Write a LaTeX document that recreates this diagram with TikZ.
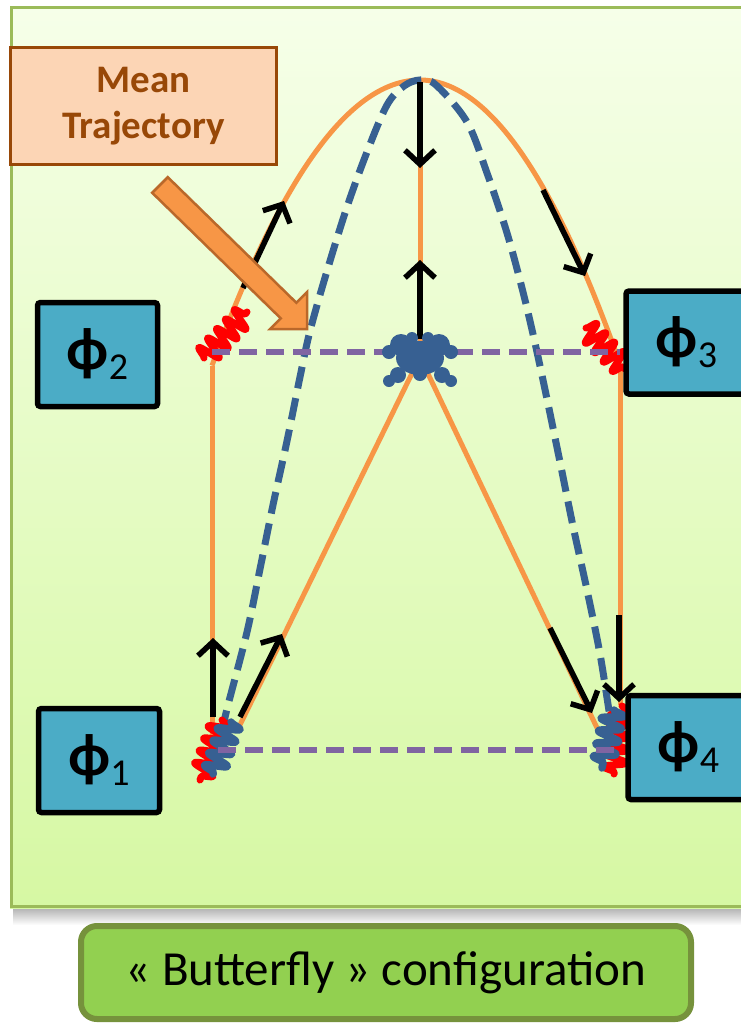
\documentclass[tikz,border=0pt]{standalone}
\usepackage{fontspec}
\setmainfont{Carlito}
\usetikzlibrary{arrows.meta,decorations.pathmorphing}

\definecolor{panelTop}{RGB}{246,255,233}
\definecolor{panelBot}{RGB}{214,248,163}
\definecolor{panelEdge}{RGB}{155,187,89}
\definecolor{noteFill}{RGB}{252,213,181}
\definecolor{noteEdge}{RGB}{152,72,7}
\definecolor{pathOrange}{RGB}{247,150,70}
\definecolor{arrowEdge}{RGB}{186,104,42}
\definecolor{waveBlue}{RGB}{55,96,146}
\definecolor{wavePurple}{RGB}{128,100,162}
\definecolor{waveRed}{RGB}{255,0,0}
\definecolor{phiFill}{RGB}{75,172,198}
\definecolor{capFill}{RGB}{146,208,80}
\definecolor{capEdge}{RGB}{118,146,60}

\newcommand\phiLabel[1]{{\fontsize{60}{60}\selectfont\bfseries ϕ}\raisebox{-10pt}{\fontsize{38}{38}\selectfont #1}}

\tikzset{
  armline/.style={draw=pathOrange, line width=5pt},
  meanline/.style={draw=waveBlue, line width=7pt, dash pattern=on 22pt off 10pt},
  levelline/.style={draw=wavePurple, line width=5.5pt, dash pattern=on 18pt off 9pt},
  kick/.style={draw=black, line width=5.5pt, -{Straight Barb[length=14pt,width=30pt]}},
  redpacket/.style={draw=waveRed, line width=7pt, line cap=round, line join=round,
    decorate, decoration={snake, segment length=13pt, amplitude=11pt}},
  bluepacket/.style={draw=waveBlue, line width=7.5pt, line cap=round, line join=round,
    decorate, decoration={snake, segment length=13pt, amplitude=11pt}},
  phibox/.style={draw=black, line width=5.5pt, fill=phiFill, rounded corners=3pt,
    inner sep=0pt},
  notebox/.style={draw=noteEdge, line width=3pt, fill=noteFill, inner sep=0pt,
    minimum width=266pt, minimum height=117pt, align=center, text=noteEdge,
    font=\fontsize{39}{46}\selectfont\bfseries},
  capbox/.style={draw=capEdge, line width=6pt, fill=capFill, rounded corners=16pt,
    minimum width=610pt, minimum height=93pt, inner sep=0pt,
    font=\fontsize{49}{49}\selectfont}
}

\begin{document}
\begin{tikzpicture}[x=1pt,y=-1pt]
\useasboundingbox (0,0) rectangle (740,1023);

% background panel with its shadow
\shade[top color=black!30, bottom color=white] (13,908) rectangle (745,925);
\shade[top color=panelTop, bottom color=panelBot] (10,6) rectangle (745,908);
\draw[panelEdge, line width=3.5pt] (11.5,7.5) rectangle (746,906.5);

% key points of the two arms
\coordinate (apex) at (420,80);
\coordinate (mid) at (420,357);
\coordinate (footL) at (212,738);
\coordinate (footR) at (620,705);
\coordinate (cornerL) at (212,365.5);
\coordinate (cornerR) at (620,364);
\coordinate (vL) at (237,731);
\coordinate (vR) at (598,730);

% interferometer arms
\draw[armline] plot[domain=212:420, samples=60, smooth] (\x,{80+((\x-420)*0.08124)^2})
  -- plot[domain=420:620, samples=60, smooth] (\x,{80+((\x-420)*0.08426)^2});
\draw[armline] (cornerL) -- (footL);
\draw[armline] (cornerR) -- (footR);
\draw[armline] (apex) -- (420,345);
\draw[armline] (mid) -- (vL);
\draw[armline] (mid) -- (vR);

% mean trajectory
\draw[meanline] plot[smooth, tension=0.55] coordinates {
  (222,732) (227,709) (247,632) (260,569) (273,505) (287,441) (300,377)
  (310,331) (327,271) (347,207) (367,152) (387,105) (404,86) (420,80)
  (436,85) (467,122) (487,173) (507,233) (523,292) (535,343) (547,399)
  (560,462) (573,526) (587,590) (600,654) (610,717) (613,732)};

% momentum kicks
\draw[kick] (213,717) -- (213,638);
\draw[kick] (240,717) -- (282,634);
\draw[kick] (243,288) -- (284,201);
\draw[kick] (420,82) -- (420,168);
\draw[kick] (420,339) -- (420,260);
\draw[kick] (543,190) -- (585,276);
\draw[kick] (550,628) -- (592,713);
\draw[kick] (619,615) -- (619,702);

% wave packets
\draw[redpacket] (204,358) -- (247,312);
\draw[redpacket] (586,328) -- (625,369);
\draw[redpacket] (222,720) -- (200,780);
\draw[bluepacket] (231,722) -- (213,774);
\draw[redpacket] (622,706) -- (614,774);
\draw[bluepacket] (614,710) -- (602,768);

% pulse levels
\draw[levelline] (212,352) -- (620,352);
\draw[levelline] (218,750) -- (614,750);

% overlapping packets at the centre
\begin{scope}[fill=waveBlue]
  \fill (420,358) ellipse [x radius=24, y radius=17];
  \fill (401,345) circle (11);
  \fill (439,345) circle (11);
  \fill (389,352) circle (7);
  \fill (451,352) circle (7);
  \fill (398,375) circle (8);
  \fill (442,375) circle (8);
  \fill (389,381) circle (6);
  \fill (451,381) circle (6);
  \fill (412,338) circle (6);
  \fill (428,338) circle (6);
  \fill (420,374) circle (7);
\end{scope}

% laser pulses
\node[phibox, minimum width=120pt, minimum height=104pt] (phi2) at (97.5,354.5) {\phiLabel{2}};
\node[phibox, minimum width=121pt, minimum height=104pt] (phi1) at (99,760.5) {\phiLabel{1}};
\node[phibox, minimum width=121pt, minimum height=103pt] (phi3) at (686.5,342.5) {\phiLabel{3}};
\node[phibox, minimum width=121pt, minimum height=104pt] (phi4) at (688.5,747.5) {\phiLabel{4}};

% label of the mean trajectory
\node[notebox] (mean) at (143.5,106) {Mean\\Trajectory};
\filldraw[fill=pathOrange, draw=arrowEdge, line width=2.5pt, line join=miter]
  (167.8,177.2) -- (296.4,302.8) -- (307,292.2) -- (307,329) -- (270.2,329)
  -- (280.8,318.4) -- (152.2,192.8) -- cycle;

% caption
\node[capbox] (cap) at (386,972.5) {« Butterfly » configuration};
\end{tikzpicture}
\end{document}
